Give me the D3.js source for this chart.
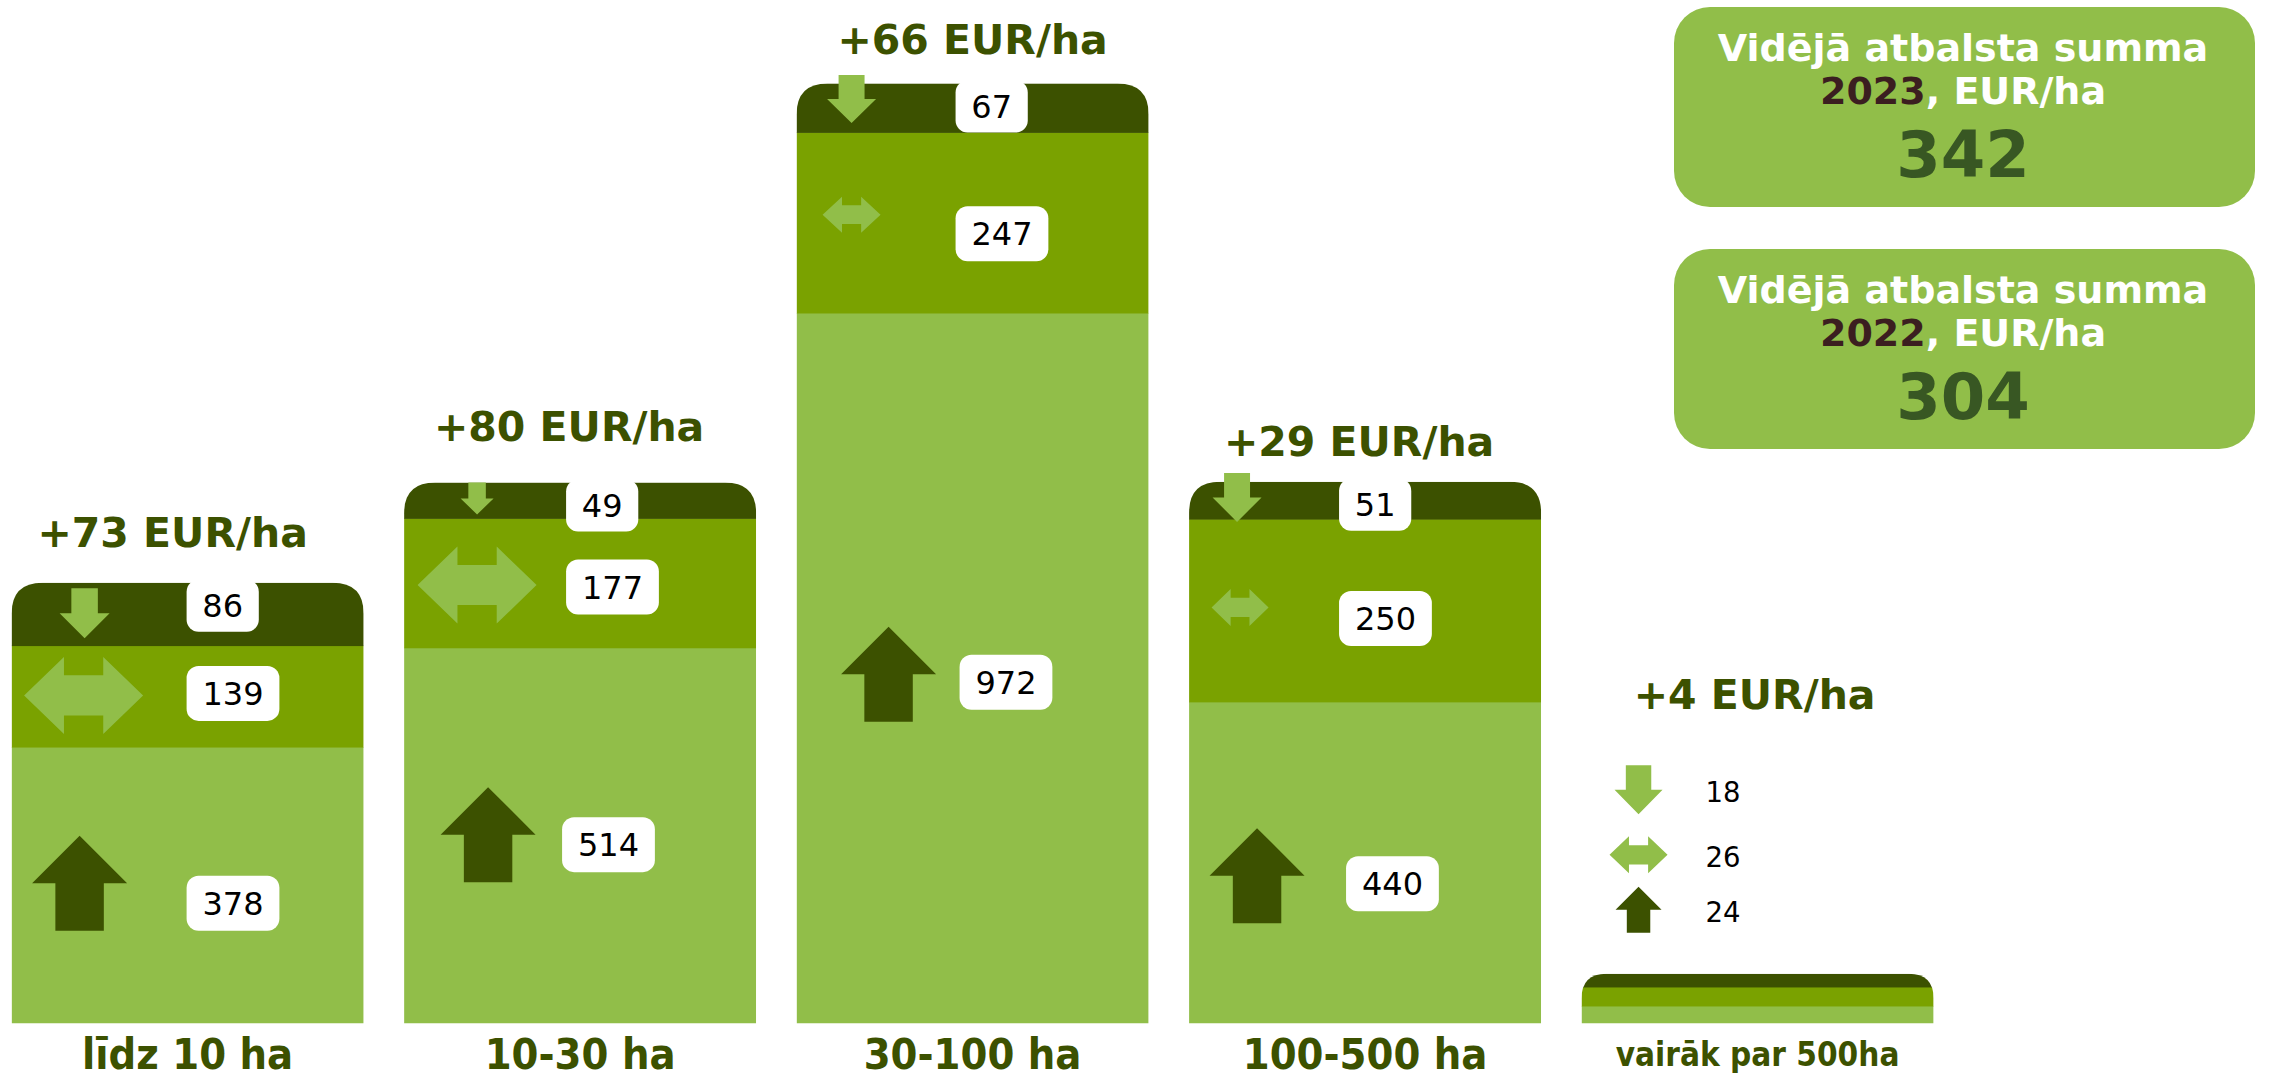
<!DOCTYPE html>
<html>
<head>
<meta charset="utf-8">
<script src="https://cdn.jsdelivr.net/npm/d3@7"></script>
<style>
  html, body { margin: 0; padding: 0; background: #ffffff; }
  svg { display: block; }
</style>
</head>
<body>
<svg id="chart" width="2272" height="1081"></svg>
<script>
// ---------------- DATA ----------------
const categories = ["līdz 10 ha", "10-30 ha", "30-100 ha", "100-500 ha", "vairāk par 500ha"];
const decreased  = [86, 49, 67, 51, 18];      // ↓ top (dark) segment
const unchanged  = [139, 177, 247, 250, 26];  // ↔ middle segment
const increased  = [378, 514, 972, 440, 24];  // ↑ bottom (light) segment
const changeLabels = ["+73 EUR/ha", "+80 EUR/ha", "+66 EUR/ha", "+29 EUR/ha", "+4 EUR/ha"];
const summaryTitle = "Vidējā atbalsta summa";
const summaryYears = ["2023", "2022"];
const summaryUnit = ", EUR/ha";
const summaryValues = [342, 304];

// ---------------- LAYOUT / STYLE ----------------
const W = 2272, H = 1081;
const C = {
  dark: "#3C5100",
  mid: "#7AA200",
  light: "#91BE49",
  label: "#3C5100",
  big: "#385723",
  year: "#3B1E20"
};
const labelLift = [36, 42, 29, 26, 265];
const labelDx = [-15, -11, 0, -6, -3];
const boxDx = [175, 162, 159, 150];
const boxDxLight = [175, 158, 163, 157];
const midBoxDy = [-3, 4, 11, 8];
const lightBoxDy = [18, 9, 14, 21];
const downDx = [73, 73, 55, 48], downDy = [-1, -2, -9, -3];
const downSize = [[50, 50], [33, 32], [49, 48], [49, 49]];
const bothDx = [72, 73, 55, 51], bothDy = [-1, 2, -8, -3];
const bothSize = [[119, 77], [119, 77], [58, 36], [57, 37]];
const upDx = [68, 84, 92, 68], upDy = [-2, -1, 6, 13];
const upSize = [95, 95, 95, 95];

const svg = d3.select("#chart");

const x = d3.scaleBand().domain(categories).range([11.6, 1933.6]).paddingInner(0.103).paddingOuter(0);
const y = d3.scaleLinear().domain([0, 1300]).range([1023.5, 1023.5 - 1300 * 0.731]);

const rows = categories.map((c, i) => {
  const inc = increased[i], un = unchanged[i], dec = decreased[i];
  return {
    cat: c, i,
    x: x(c), w: x.bandwidth(),
    yBase: y(0), yInc: y(inc), yUn: y(inc + un), yTop: y(inc + un + dec),
    inc, un, dec
  };
});

function roundTop(x0, y0, w, h, r) {
  r = Math.min(r, h / 2, w / 2);
  return `M${x0},${y0 + h} L${x0},${y0 + r} Q${x0},${y0} ${x0 + r},${y0} L${x0 + w - r},${y0} Q${x0 + w},${y0} ${x0 + w},${y0 + r} L${x0 + w},${y0 + h} Z`;
}
function upArrow(cx, cy, w, h) {
  const sw = w * 0.51, hh = h * 0.5;
  return d3.line()([[cx, cy - h / 2], [cx + w / 2, cy - h / 2 + hh], [cx + sw / 2, cy - h / 2 + hh], [cx + sw / 2, cy + h / 2],
    [cx - sw / 2, cy + h / 2], [cx - sw / 2, cy - h / 2 + hh], [cx - w / 2, cy - h / 2 + hh]]) + "Z";
}
function downArrow(cx, cy, w, h) {
  const sw = w * 0.53, hh = h * 0.5;
  return d3.line()([[cx, cy + h / 2], [cx + w / 2, cy + h / 2 - hh], [cx + sw / 2, cy + h / 2 - hh], [cx + sw / 2, cy - h / 2],
    [cx - sw / 2, cy - h / 2], [cx - sw / 2, cy + h / 2 - hh], [cx - w / 2, cy + h / 2 - hh]]) + "Z";
}
function bothArrow(cx, cy, w, h) {
  const hw = w * 0.335, sh = h * 0.52;
  return d3.line()([[cx - w / 2, cy], [cx - w / 2 + hw, cy - h / 2], [cx - w / 2 + hw, cy - sh / 2], [cx + w / 2 - hw, cy - sh / 2],
    [cx + w / 2 - hw, cy - h / 2], [cx + w / 2, cy], [cx + w / 2 - hw, cy + h / 2], [cx + w / 2 - hw, cy + sh / 2],
    [cx - w / 2 + hw, cy + sh / 2], [cx - w / 2 + hw, cy + h / 2]]) + "Z";
}

const defs = svg.append("defs");
rows.forEach(r => {
  defs.append("clipPath").attr("id", "clip" + r.i)
    .append("path").attr("d", roundTop(r.x, r.yTop, r.w, r.yBase - r.yTop, r.i === 4 ? 26 : 31));
});

// ---------------- BARS ----------------
const bars = svg.append("g").selectAll("g").data(rows).join("g")
  .attr("clip-path", d => `url(#clip${d.i})`);
bars.append("rect").attr("x", d => d.x).attr("width", d => d.w)
  .attr("y", d => d.yInc).attr("height", d => d.yBase - d.yInc).attr("fill", C.light);
bars.append("rect").attr("x", d => d.x).attr("width", d => d.w)
  .attr("y", d => d.yUn).attr("height", d => d.yInc - d.yUn + 0.5).attr("fill", C.mid);
bars.append("rect").attr("x", d => d.x).attr("width", d => d.w)
  .attr("y", d => d.yTop).attr("height", d => d.yUn - d.yTop + 0.5).attr("fill", C.dark);

// ---------------- ICONS + VALUE BOXES (bars 1-4) ----------------
const main = rows.slice(0, 4);
const icons = svg.append("g");
main.forEach(r => {
  const i = r.i;
  const cDark = (r.yTop + r.yUn) / 2, cMid = (r.yUn + r.yInc) / 2, cLight = (r.yInc + r.yBase) / 2;
  icons.append("path").attr("d", downArrow(r.x + downDx[i], cDark + downDy[i], downSize[i][0], downSize[i][1])).attr("fill", C.light);
  icons.append("path").attr("d", bothArrow(r.x + bothDx[i], cMid + bothDy[i], bothSize[i][0], bothSize[i][1])).attr("fill", C.light);
  icons.append("path").attr("d", upArrow(r.x + upDx[i], cLight + upDy[i], upSize[i], upSize[i])).attr("fill", C.dark);

  const items = [
    { v: r.dec, top: r.yTop - 3, h: 52, dx: boxDx[i] },
    { v: r.un, top: cMid + midBoxDy[i] - 27.5, h: 55, dx: boxDx[i] },
    { v: r.inc, top: cLight + lightBoxDy[i] - 27.5, h: 55, dx: boxDxLight[i] }
  ];
  items.forEach(it => {
    const txt = String(it.v);
    const bw = 31 + txt.length * 20.6;
    const bx = r.x + it.dx;
    icons.append("rect").attr("x", bx).attr("y", it.top).attr("width", bw).attr("height", it.h)
      .attr("rx", 12).attr("fill", "#ffffff");
    icons.append("text").attr("x", bx + bw / 2).attr("y", it.top + it.h / 2 + 11.5)
      .attr("text-anchor", "middle").attr("font-family", "'DejaVu Sans', Verdana, sans-serif")
      .attr("font-size", 32).attr("fill", "#000").text(txt);
  });
});

// ---------------- LEGEND-LIKE COLUMN FOR LAST BAR ----------------
const r5 = rows[4];
const legendRows = [
  { v: r5.dec, shape: "down", dy: -184, w: 48, h: 49, fill: C.light },
  { v: r5.un, shape: "both", dy: -119, w: 58, h: 37, fill: C.light },
  { v: r5.inc, shape: "up", dy: -64, w: 46, h: 46, fill: C.dark }
];
legendRows.forEach(l => {
  const cx = r5.x + 57, cy = r5.yTop + l.dy;
  const f = l.shape === "down" ? downArrow : l.shape === "both" ? bothArrow : upArrow;
  icons.append("path").attr("d", f(cx, cy, l.w, l.h)).attr("fill", l.fill);
  icons.append("text").attr("x", r5.x + 124).attr("y", cy + 12)
    .attr("font-family", "'DejaVu Sans', Verdana, sans-serif").attr("font-size", 27.5)
    .attr("fill", "#000").text(l.v);
});

// ---------------- CHANGE LABELS ----------------
svg.append("g").selectAll("text").data(rows).join("text")
  .attr("x", d => d.x + d.w / 2 + labelDx[d.i])
  .attr("y", d => d.yTop - labelLift[d.i])
  .attr("text-anchor", "middle")
  .attr("font-family", "'DejaVu Sans', Verdana, sans-serif")
  .attr("font-weight", "bold").attr("font-size", 41).attr("fill", C.label)
  .text((d, i) => changeLabels[i]);

// ---------------- CATEGORY LABELS ----------------
svg.append("g").selectAll("text").data(rows).join("text")
  .attr("x", d => d.x + d.w / 2)
  .attr("y", d => d.i === 4 ? 1066 : 1069)
  .attr("text-anchor", "middle")
  .attr("font-family", "'DejaVu Sans Condensed', 'DejaVu Sans', sans-serif")
  .attr("font-stretch", "condensed")
  .attr("font-weight", "bold")
  .attr("font-size", d => d.i === 4 ? 33 : 43)
  .attr("fill", C.label)
  .text(d => d.cat);

// ---------------- SUMMARY BOXES ----------------
const sumG = svg.append("g");
summaryValues.forEach((v, k) => {
  const top = 7 + k * 242;
  sumG.append("rect").attr("x", 1674).attr("y", top).attr("width", 581).attr("height", 200)
    .attr("rx", 36).attr("fill", C.light);
  const cx = 1963;
  sumG.append("text").attr("x", cx).attr("y", top + 54).attr("text-anchor", "middle")
    .attr("font-family", "'DejaVu Sans', Tahoma, sans-serif").attr("font-weight", "bold")
    .attr("font-size", 38).attr("fill", "#ffffff").text(summaryTitle);
  const t2 = sumG.append("text").attr("x", cx).attr("y", top + 97).attr("text-anchor", "middle")
    .attr("font-family", "'DejaVu Sans', Tahoma, sans-serif").attr("font-weight", "bold")
    .attr("font-size", 38).attr("fill", "#ffffff");
  t2.append("tspan").attr("fill", C.year).text(summaryYears[k]);
  t2.append("tspan").text(summaryUnit);
  sumG.append("text").attr("x", cx).attr("y", top + 170).attr("text-anchor", "middle")
    .attr("font-family", "'DejaVu Sans', Tahoma, sans-serif").attr("font-weight", "bold")
    .attr("font-size", 64).attr("fill", C.big).text(v);
});
</script>
</body>
</html>
